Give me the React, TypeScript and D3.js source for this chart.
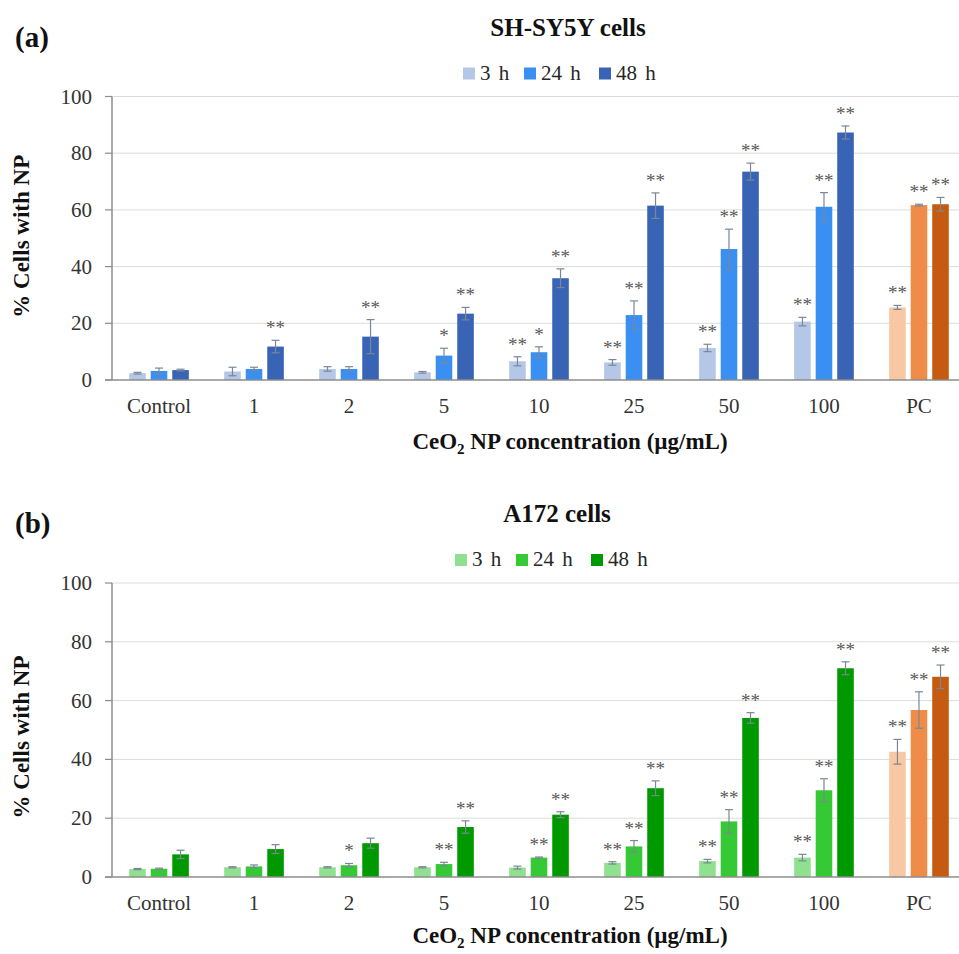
import * as d3 from "d3";

// categories and series
const categories = ["Control", "1", "2", "5", "10", "25", "50", "100", "PC"];
const series = ["3 h", "24 h", "48 h"];
const yTicks = [0, 20, 40, 60, 80, 100];

// SH-SY5Y cells (% cells with NP), mean and error
const shsyMean3 = [2.4, 3.0, 3.9, 2.7, 6.6, 6.2, 11.3, 20.6, 25.6];
const shsyMean24 = [3.2, 3.9, 3.9, 8.6, 9.8, 22.9, 46.2, 61.1, 61.7];
const shsyMean48 = [3.5, 11.8, 15.3, 23.4, 35.9, 61.5, 73.5, 87.3, 62.0];
const shsyErr3 = [0.3, 1.5, 0.8, 0.3, 1.6, 1.0, 1.3, 1.5, 0.7];
const shsyErr24 = [1.0, 0.6, 0.8, 2.6, 1.9, 5.0, 7.0, 5.0, 0.3];
const shsyErr48 = [0.3, 2.2, 6.0, 2.2, 3.3, 4.5, 3.0, 2.3, 2.4];
const shsySig3 = ["", "", "", "", "**", "**", "**", "**", "**"];
const shsySig24 = ["", "", "", "*", "*", "**", "**", "**", "**"];
const shsySig48 = ["", "**", "**", "**", "**", "**", "**", "**", "**"];

// A172 cells
const a172Mean3 = [2.7, 3.3, 3.3, 3.3, 3.2, 4.8, 5.4, 6.6, 42.6];
const a172Mean24 = [2.8, 3.6, 4.0, 4.4, 6.6, 10.4, 18.9, 29.5, 56.8];
const a172Mean48 = [7.7, 9.5, 11.5, 17.0, 21.2, 30.2, 54.1, 71.0, 68.1];
const a172Err3 = [0.2, 0.2, 0.2, 0.2, 0.5, 0.4, 0.6, 1.1, 4.2];
const a172Err24 = [0.2, 0.5, 0.6, 0.6, 0.2, 2.0, 4.0, 3.9, 6.2];
const a172Err48 = [1.4, 1.5, 1.7, 2.1, 1.0, 2.5, 1.8, 2.2, 4.0];
const a172Sig3 = ["", "", "", "", "", "**", "**", "**", "**"];
const a172Sig24 = ["", "", "*", "**", "**", "**", "**", "**", "**"];
const a172Sig48 = ["", "", "", "**", "**", "**", "**", "**", "**"];

const blues = ["#b4c7e7", "#3a8ff3", "#3964b6"];
const greens = ["#8fe08f", "#35c935", "#009a00"];
const oranges = ["#f8c8a5", "#ee8c48", "#c55a11"];

const W = 959;
const F = "Times New Roman";

function Panel({top, tag, title, means, errs, sigs, colors, titleX, legendX}) {
    // top = y of the 100 line, yBottom = y of 0
    const yBottom = top + (tag === "(a)" ? 283.5 : 294);
    const left = 112;

    const y = d3.scaleLinear().domain([0, 100]).range([yBottom, top]);
    const x = d3.scaleBand().domain(categories).range([left, 966])
        .paddingInner(0.32).paddingOuter(0.155);
    const xSub = d3.scaleBand().domain(series).range([0, x.bandwidth()])
        .paddingInner(0.23).paddingOuter(0.115);

    const legendOffsets = [0, 61, 136];

    return (
        <g>
            <text x={15} y={top - 50} fontFamily={F} fontWeight="bold" fontSize={29} fill="#111">{tag}</text>
            <text x={titleX} y={top - 61} textAnchor="middle" fontFamily={F} fontWeight="bold" fontSize={25}
                  fill="#111">{title}</text>

            {series.map((s, i) =>
                <g key={s} transform={`translate(${legendX + legendOffsets[i]},${top - 29})`}>
                    <rect x={0} y={0} width={12} height={12} fill={colors[i]}/>
                    <text x={17} y={12} fontFamily={F} fontSize={21} fill="#262626" wordSpacing={3}>{s}</text>
                </g>
            )}

            {yTicks.map(t =>
                <g key={t}>
                    {t > 0 && <line x1={left} x2={W} y1={y(t)} y2={y(t)} stroke="#dcdcdc" strokeWidth={1}/>}
                    <line x1={left - 7} x2={left} y1={y(t)} y2={y(t)} stroke="#8c8c8c" strokeWidth={1.2}/>
                    <text x={92} y={y(t) + 7} textAnchor="end" fontFamily={F} fontSize={21} fill="#333">{t}</text>
                </g>
            )}
            <line x1={left} x2={left} y1={top} y2={yBottom} stroke="#8c8c8c" strokeWidth={1.5}/>

            {categories.map((c, ci) =>
                <g key={c} transform={`translate(${x(c)},0)`}>
                    {series.map((s, si) => {
                        const m = means[si][ci];
                        const e = errs[si][ci];
                        const bx = xSub(s);
                        const bw = xSub.bandwidth();
                        const cx = bx + bw / 2;
                        const fill = c === "PC" ? oranges[si] : colors[si];
                        return (
                            <g key={s}>
                                <rect x={bx} y={y(m)} width={bw} height={yBottom - y(m)} fill={fill}/>
                                <line x1={cx} x2={cx} y1={y(m + e)} y2={y(m - e)} stroke="#7a8796" strokeWidth={1.2}/>
                                <line x1={cx - 4} x2={cx + 4} y1={y(m + e)} y2={y(m + e)} stroke="#7a8796" strokeWidth={1.2}/>
                                <line x1={cx - 4} x2={cx + 4} y1={y(m - e)} y2={y(m - e)} stroke="#7a8796" strokeWidth={1.2}/>
                                {sigs[si][ci] &&
                                    <text x={cx} y={y(m + e) - 6} textAnchor="middle" fontFamily={F} fontSize={19}
                                          fill="#595959">{sigs[si][ci]}</text>}
                            </g>
                        )
                    })}
                    <text x={x.bandwidth() / 2} y={yBottom + 33} textAnchor="middle" fontFamily={F} fontSize={21}
                          fill="#333">{c}</text>
                </g>
            )}
            <line x1={left - 7} x2={W} y1={yBottom} y2={yBottom} stroke="#8c8c8c" strokeWidth={1.5}/>

            <text x={570} y={yBottom + (tag === "(a)" ? 69 : 66)} textAnchor="middle" fontFamily={F} fontWeight="bold"
                  fontSize={23} fill="#111">
                CeO<tspan fontSize={15} dy={5}>2</tspan><tspan dy={-5}> NP concentration (µg/mL)</tspan>
            </text>
            <text transform={`translate(29,${(top + yBottom) / 2 + (tag === "(a)" ? -2 : 7)}) rotate(-90)`}
                  textAnchor="middle" fontFamily={F} fontWeight="bold" fontSize={23} fill="#111">
                % Cells with NP
            </text>
        </g>
    )
}

export default function App() {
    return (
        <svg width={W} height={954} style={{position: "absolute", left: 0, top: 0}}>
            <Panel top={96.5} tag="(a)" title="SH-SY5Y cells"
                   means={[shsyMean3, shsyMean24, shsyMean48]}
                   errs={[shsyErr3, shsyErr24, shsyErr48]}
                   sigs={[shsySig3, shsySig24, shsySig48]}
                   colors={blues} titleX={568} legendX={463}/>
            <Panel top={583} tag="(b)" title="A172 cells"
                   means={[a172Mean3, a172Mean24, a172Mean48]}
                   errs={[a172Err3, a172Err24, a172Err48]}
                   sigs={[a172Sig3, a172Sig24, a172Sig48]}
                   colors={greens} titleX={557} legendX={455}/>
        </svg>
    )
}
